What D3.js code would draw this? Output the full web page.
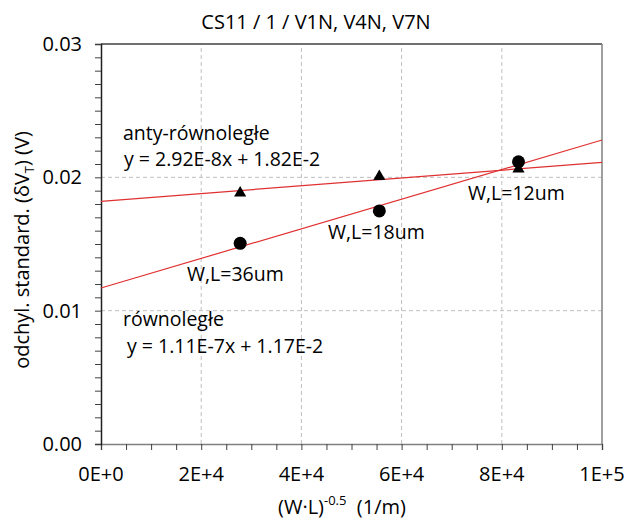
<!DOCTYPE html>
<html>
<head>
<meta charset="utf-8">
<script src="https://cdn.jsdelivr.net/npm/d3@7"></script>
<style>
  body { margin: 0; background: #fff; }
  svg { font-family: "Open Sans", "Liberation Sans", sans-serif; }
  .tick-label { font-size: 20px; fill: #000; }
  .note { font-size: 19.5px; fill: #000; }
</style>
</head>
<body>
<svg id="chart" width="624" height="520"></svg>
<script>
// 1/sqrt(W*L) for W,L = 36, 18, 12 um
var xValues = [27778, 55556, 83333];
var parallelY = [0.01505, 0.01748, 0.02117];      // circles
var antiParallelY = [0.01883, 0.02006, 0.02062];  // triangles
var xTicks = [0, 20000, 40000, 60000, 80000, 100000];
var xTickLabels = ['0E+0', '2E+4', '4E+4', '6E+4', '8E+4', '1E+5'];
var yTicks = [0, 0.01, 0.02, 0.03];
var yTickLabels = ['0.00', '0.01', '0.02', '0.03'];
var fitParallel = { slope: 1.11e-7, icpt: 1.17e-2 };
var fitAnti = { slope: 2.92e-8, icpt: 1.82e-2 };

var MARGIN = { left: 101, right: 22, top: 44, bottom: 76 };
var W = 624, H = 520;

var svg = d3.select('#chart');
var x = d3.scaleLinear().domain([0, 100000]).range([MARGIN.left, W - MARGIN.right]);
var y = d3.scaleLinear().domain([0, 0.03]).range([H - MARGIN.bottom, MARGIN.top]);

// grid
svg.append('g').selectAll('line').data(xTicks.slice(1, -1)).enter().append('line')
    .attr('x1', function(d) { return x(d); }).attr('x2', function(d) { return x(d); })
    .attr('y1', y(0)).attr('y2', y(0.03))
    .attr('stroke', '#bfbfbf').attr('stroke-dasharray', '4,3');
svg.append('g').selectAll('line').data(yTicks.slice(1, -1)).enter().append('line')
    .attr('y1', function(d) { return y(d); }).attr('y2', function(d) { return y(d); })
    .attr('x1', x(0)).attr('x2', x(100000))
    .attr('stroke', '#bfbfbf').attr('stroke-dasharray', '4,3');

// frame (top + right)
svg.append('line').attr('x1', x(0)).attr('x2', x(100000)).attr('y1', y(0.03)).attr('y2', y(0.03))
    .attr('stroke', '#404040').attr('stroke-width', 1.5);
svg.append('line').attr('x1', x(100000)).attr('x2', x(100000)).attr('y1', y(0.03)).attr('y2', y(0))
    .attr('stroke', '#808080').attr('stroke-width', 1.5);

// axes with minor ticks
var xAxis = d3.axisBottom(x).tickValues(d3.range(0, 100001, 5000)).tickSize(6).tickFormat('');
var gx = svg.append('g').attr('transform', 'translate(0,' + y(0) + ')').call(xAxis);
gx.select('.domain').attr('stroke', '#808080').attr('stroke-width', 1.5);
gx.selectAll('.tick line').attr('stroke', '#404040');

var yAxis = d3.axisLeft(y).tickValues(d3.range(0, 31).map(function(i) { return i / 1000; })).tickSize(6).tickFormat('');
var gy = svg.append('g').attr('transform', 'translate(' + x(0) + ',0)').call(yAxis);
gy.select('.domain').attr('stroke', '#202020').attr('stroke-width', 1.5);
gy.selectAll('.tick line').attr('stroke', '#404040');

// tick labels
svg.append('g').selectAll('text').data(xTicks).enter().append('text')
    .attr('class', 'tick-label')
    .attr('x', function(d) { return x(d); })
    .attr('y', y(0) + 37)
    .attr('text-anchor', 'middle')
    .text(function(d, i) { return xTickLabels[i]; });
svg.append('g').selectAll('text').data(yTicks).enter().append('text')
    .attr('class', 'tick-label')
    .attr('x', x(0) - 19)
    .attr('y', function(d) { return y(d) + 7; })
    .attr('text-anchor', 'end')
    .text(function(d, i) { return yTickLabels[i]; });

// fit lines
function drawFit(fit) {
    svg.append('line')
        .attr('x1', x(0)).attr('y1', y(fit.icpt))
        .attr('x2', x(100000)).attr('y2', y(fit.icpt + fit.slope * 100000))
        .attr('stroke', '#e03030').attr('stroke-width', 1.2);
}
drawFit(fitAnti);
drawFit(fitParallel);

// markers
svg.append('g').selectAll('path').data(xValues).enter().append('path')
    .attr('d', d3.symbol().type(d3.symbolTriangle).size(64))
    .attr('transform', function(d, i) { return 'translate(' + x(d) + ',' + y(antiParallelY[i]) + ')'; })
    .attr('fill', '#000');
svg.append('g').selectAll('circle').data(xValues).enter().append('circle')
    .attr('cx', function(d) { return x(d); })
    .attr('cy', function(d, i) { return y(parallelY[i]); })
    .attr('r', 6.5)
    .attr('fill', '#000');

// annotations
var notes = [
    { t: 'anty-równoległe', x: 123, y: 140 },
    { t: 'y = 2.92E-8x + 1.82E-2', x: 124, y: 166 },
    { t: 'W,L=36um', x: 187, y: 281 },
    { t: 'W,L=18um', x: 328, y: 239 },
    { t: 'W,L=12um', x: 468, y: 200 },
    { t: 'równoległe', x: 123, y: 326 },
    { t: 'y = 1.11E-7x + 1.17E-2', x: 127, y: 353 }
];
svg.append('g').selectAll('text').data(notes).enter().append('text')
    .attr('class', 'note')
    .attr('x', function(d) { return d.x; })
    .attr('y', function(d) { return d.y; })
    .text(function(d) { return d.t; });

// title
svg.append('text').attr('x', 316).attr('y', 29).attr('text-anchor', 'middle')
    .attr('font-size', 20).text('CS11 / 1 / V1N, V4N, V7N');

// x label
var xl = svg.append('text').attr('x', 342).attr('y', 514).attr('text-anchor', 'middle')
    .attr('font-size', 20);
xl.append('tspan').text('(W·L)');
xl.append('tspan').attr('dy', -9).attr('font-size', 13).text('-0.5');
xl.append('tspan').attr('dy', 9).attr('xml:space', 'preserve').text('  (1/m)');

// y label
var yl = svg.append('text').attr('transform', 'translate(29,250) rotate(-90)')
    .attr('text-anchor', 'middle').attr('font-size', 20);
yl.append('tspan').text('odchyl. standard. (δV');
yl.append('tspan').attr('dy', 5).attr('font-size', 13).text('T');
yl.append('tspan').attr('dy', -5).text(') (V)');
</script>
</body>
</html>
